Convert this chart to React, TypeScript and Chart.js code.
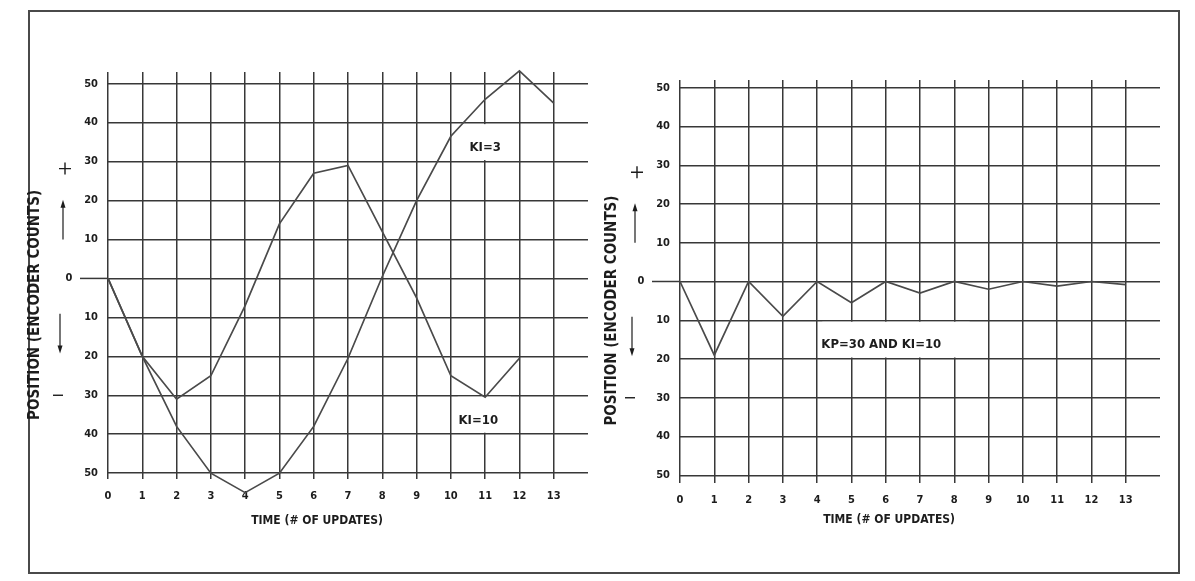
import React, { useEffect, useRef } from 'react';
import { Chart, registerables } from 'chart.js';

Chart.register(...registerables);

// ---------- data ----------
const timeSteps = [0, 1, 2, 3, 4, 5, 6, 7, 8, 9, 10, 11, 12, 13];
const xTickLabels = ['0', '1', '2', '3', '4', '5', '6', '7', '8', '9', '10', '11', '12', '13'];
const yTickValues = [-50, -40, -30, -20, -10, 0, 10, 20, 30, 40, 50];
const yTickLabels = ['50', '40', '30', '20', '10', '0', '10', '20', '30', '40', '50'];

const ki3Position = [0, -20, -38, -50, -55, -50, -38, -20.5, 0.5, 20, 36.5, 46, 53.3, 45];
const ki10Position = [0, -20, -31, -25, -7, 14, 27, 29, 12, -5, -25, -30.5, -20.5];
const kp30ki10Position = [0, -19, 0, -9, 0, -5.5, 0, -3, 0, -2, 0, -1.2, 0, -0.8];

const xAxisTitle = 'TIME (# OF UPDATES)';
const yAxisTitle = 'POSITION (ENCODER COUNTS)';

// ---------- style ----------
const FONT = "'Liberation Sans Narrow', 'Arial Narrow', 'DejaVu Sans Condensed', sans-serif";
const INK = '#1c1c1c';
const GRID = '#383838';
const LINE = '#4a4a4a';

type Note = { text: string; x: number; y: number; box: [number, number, number, number] };
type PanelCfg = {
  left: number;
  width: number;
  padding: { left: number; right: number; top: number; bottom: number };
  yMin: number;
  yMax: number;
  series: number[][];
  notes: Note[];
  xTitle: { value: number; dy: number };
  yTitle: { dx: number; value: number };
};

const toPoints = (vals: number[]) => vals.map((v, i) => ({ x: timeSteps[i], y: v }));

function decorPlugin(cfg: PanelCfg) {
  return {
    id: 'decor',
    beforeDatasetsDraw(chart: any) {
      const { ctx, chartArea } = chart;
      const x = chart.scales.x;
      const y = chart.scales.y;
      ctx.save();
      const y0 = y.getPixelForValue(0);
      ctx.strokeStyle = GRID;
      ctx.lineWidth = 1.5;
      ctx.beginPath();
      ctx.moveTo(chartArea.left - 28, y0);
      ctx.lineTo(chartArea.left, y0);
      ctx.stroke();
      ctx.fillStyle = INK;
      ctx.font = `bold 11px ${FONT}`;
      ctx.textAlign = 'center';
      ctx.textBaseline = 'middle';
      ctx.fillText('0', chartArea.left - 39, y0);
      for (const n of cfg.notes) {
        const x1 = x.getPixelForValue(n.box[0]);
        const x2 = x.getPixelForValue(n.box[1]);
        const yT = y.getPixelForValue(n.box[3]);
        const yB = y.getPixelForValue(n.box[2]);
        ctx.fillStyle = '#ffffff';
        ctx.fillRect(x1, yT + 1.5, x2 - x1, yB - yT - 3);
        ctx.fillStyle = INK;
        ctx.font = `bold 13px ${FONT}`;
        ctx.fillText(n.text, x.getPixelForValue(n.x), y.getPixelForValue(n.y));
      }
      ctx.restore();
    },
    afterDraw(chart: any) {
      const { ctx, chartArea } = chart;
      const x = chart.scales.x;
      const y = chart.scales.y;
      const L = chartArea.left;
      ctx.save();
      ctx.strokeStyle = INK;
      ctx.fillStyle = INK;
      ctx.lineWidth = 1.4;
      const py = y.getPixelForValue(28.2);
      ctx.beginPath();
      ctx.moveTo(L - 49, py); ctx.lineTo(L - 37, py);
      ctx.moveTo(L - 43, py - 6); ctx.lineTo(L - 43, py + 6);
      ctx.stroke();
      const ua = y.getPixelForValue(20.2), ub = y.getPixelForValue(10);
      ctx.lineWidth = 1.2;
      ctx.beginPath(); ctx.moveTo(L - 45, ua + 6); ctx.lineTo(L - 45, ub); ctx.stroke();
      ctx.beginPath(); ctx.moveTo(L - 45, ua); ctx.lineTo(L - 47.5, ua + 8); ctx.lineTo(L - 42.5, ua + 8); ctx.closePath(); ctx.fill();
      const da = y.getPixelForValue(-9.1), db = y.getPixelForValue(-19.3);
      ctx.beginPath(); ctx.moveTo(L - 48, da); ctx.lineTo(L - 48, db - 6); ctx.stroke();
      ctx.beginPath(); ctx.moveTo(L - 48, db); ctx.lineTo(L - 50.5, db - 8); ctx.lineTo(L - 45.5, db - 8); ctx.closePath(); ctx.fill();
      const my = y.getPixelForValue(-30);
      ctx.lineWidth = 1.4;
      ctx.beginPath(); ctx.moveTo(L - 55, my); ctx.lineTo(L - 45, my); ctx.stroke();
      ctx.textAlign = 'center';
      ctx.textBaseline = 'middle';
      ctx.font = `bold 12px ${FONT}`;
      ctx.fillText(xAxisTitle, x.getPixelForValue(cfg.xTitle.value), chartArea.bottom + cfg.xTitle.dy);
      ctx.save();
      ctx.translate(L + cfg.yTitle.dx, y.getPixelForValue(cfg.yTitle.value));
      ctx.rotate(-Math.PI / 2);
      ctx.font = `bold 15px ${FONT}`;
      ctx.fillText(yAxisTitle, 0, 0);
      ctx.restore();
      ctx.restore();
    },
  };
}

function Panel({ cfg }: { cfg: PanelCfg }) {
  const ref = useRef<HTMLCanvasElement | null>(null);
  useEffect(() => {
    if (!ref.current) return;
    const tickFont = { family: FONT, size: 11, weight: 'bold' as const };
    const chart = new Chart(ref.current, {
      type: 'line',
      data: {
        datasets: cfg.series.map((s) => ({
          data: toPoints(s),
          borderColor: LINE,
          borderWidth: 1.7,
          pointRadius: 0,
          tension: 0,
          fill: false,
          clip: false as any,
        })),
      },
      options: {
        responsive: false,
        animation: false,
        events: [],
        layout: { padding: cfg.padding },
        plugins: { legend: { display: false }, tooltip: { enabled: false }, title: { display: false } },
        scales: {
          x: {
            type: 'linear',
            min: 0,
            max: 14,
            afterFit: (s: any) => { s.height = 30; },
            border: { display: false },
            grid: {
              color: (c: any) => (c.tick && c.tick.value > 13 ? 'rgba(0,0,0,0)' : GRID),
              lineWidth: 1.5,
              drawTicks: false,
            },
            ticks: {
              stepSize: 1,
              autoSkip: false,
              maxRotation: 0,
              padding: 11,
              color: INK,
              font: tickFont,
              callback: (v: any) => xTickLabels[timeSteps.indexOf(Number(v))] ?? '',
            },
          },
          y: {
            type: 'linear',
            min: cfg.yMin,
            max: cfg.yMax,
            afterFit: (s: any) => { s.width = 40; },
            border: { display: false },
            grid: { color: GRID, lineWidth: 1.5, drawTicks: false },
            ticks: {
              stepSize: 10,
              includeBounds: false,
              autoSkip: false,
              padding: 10,
              color: INK,
              font: tickFont,
              callback: (v: any) => (Number(v) === 0 ? '' : yTickLabels[yTickValues.indexOf(Number(v))] ?? ''),
            },
          },
        },
      } as any,
      plugins: [decorPlugin(cfg)],
    });
    return () => chart.destroy();
  }, [cfg]);
  return (
    <canvas
      ref={ref}
      width={cfg.width}
      height={581}
      style={{ position: 'absolute', left: cfg.left, top: 0, width: cfg.width, height: 581 }}
    />
  );
}

const leftPanel: PanelCfg = {
  left: 0,
  width: 600,
  padding: { left: 68, right: 12, top: 72, bottom: 72 },
  yMin: -51.5,
  yMax: 53,
  series: [ki3Position, ki10Position],
  notes: [
    { text: 'KI=3', x: 11.0, y: 33.7, box: [10.35, 11.65, 30, 40] },
    { text: 'KI=10', x: 10.8, y: -36.4, box: [10.2, 11.75, -40, -30] },
  ],
  xTitle: { value: 6.1, dy: 42 },
  yTitle: { dx: -73, value: -6.8 },
};

const rightPanel: PanelCfg = {
  left: 600,
  width: 595,
  padding: { left: 40, right: 35, top: 80, bottom: 68 },
  yMin: -52,
  yMax: 52,
  series: [kp30ki10Position],
  notes: [{ text: 'KP=30 AND KI=10', x: 5.87, y: -16.3, box: [4.15, 8.45, -20, -10] }],
  xTitle: { value: 6.1, dy: 37 },
  yTitle: { dx: -68, value: -7.5 },
};

export default function App() {
  return (
    <div style={{ position: 'absolute', left: 0, top: 0, width: 1195, height: 581, background: '#ffffff', overflow: 'hidden' }}>
      <div
        style={{
          position: 'absolute',
          left: 28,
          top: 10,
          width: 1152,
          height: 564,
          border: '2px solid #4a4a4a',
          boxSizing: 'border-box',
        }}
      />
      <Panel cfg={leftPanel} />
      <Panel cfg={rightPanel} />
    </div>
  );
}
